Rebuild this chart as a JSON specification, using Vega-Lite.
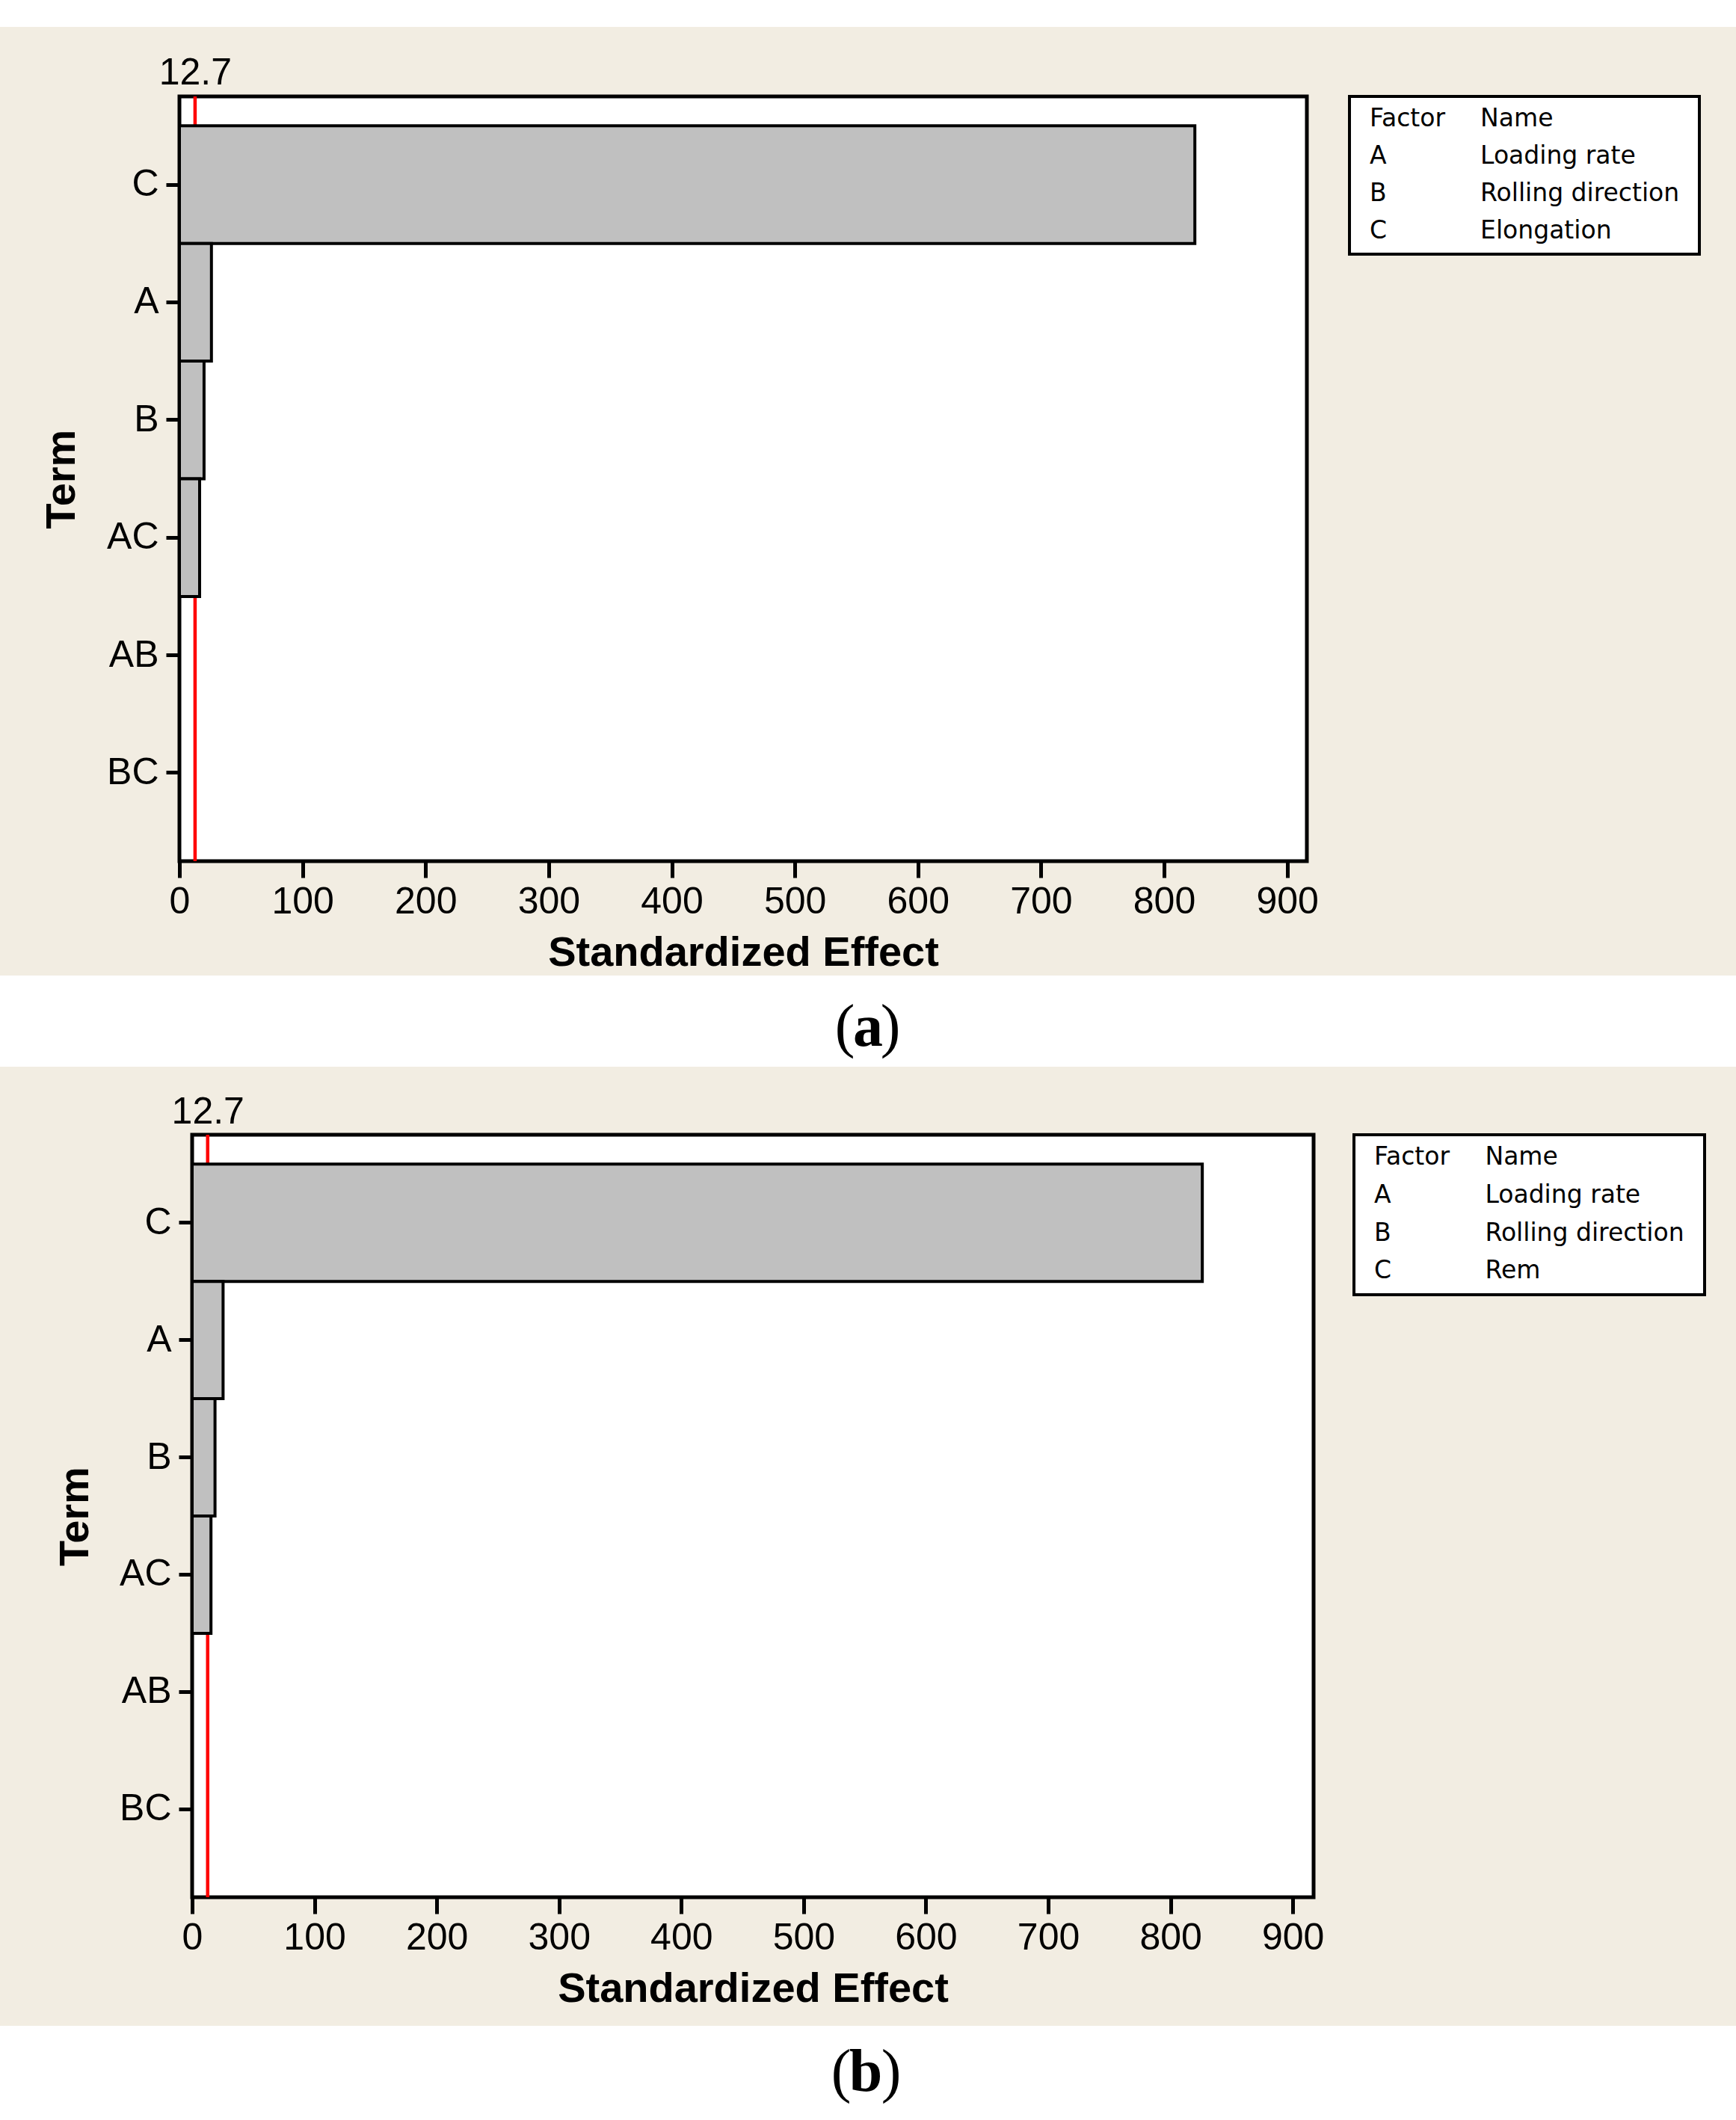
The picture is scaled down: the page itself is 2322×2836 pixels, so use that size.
{
  "$schema": "https://vega.github.io/schema/vega-lite/v6.json",
  "padding": 0,
  "background": "#f2ede2",
  "config": {
    "view": {"stroke": null},
    "axis": {"labelFont": "Liberation Sans", "titleFont": "Liberation Sans", "labelColor": "black", "titleColor": "black", "tickColor": "black", "grid": false}
  },
  "datasets": {
    "barsA": [
      {"term": "C", "effect": 825},
      {"term": "A", "effect": 26},
      {"term": "B", "effect": 20},
      {"term": "AC", "effect": 16.4},
      {"term": "AB", "effect": 0},
      {"term": "BC", "effect": 0}
    ],
    "barsB": [
      {"term": "C", "effect": 826},
      {"term": "A", "effect": 25.3},
      {"term": "B", "effect": 18.7},
      {"term": "AC", "effect": 15.4},
      {"term": "AB", "effect": 0},
      {"term": "BC", "effect": 0}
    ],
    "threshold": [{"t": 12.7}],
    "legendA": [
      {"row": "Factor", "factor": "Factor", "name": "Name"},
      {"row": "A", "factor": "A", "name": "Loading rate"},
      {"row": "B", "factor": "B", "name": "Rolling direction"},
      {"row": "C", "factor": "C", "name": "Elongation"}
    ],
    "legendB": [
      {"row": "Factor", "factor": "Factor", "name": "Name"},
      {"row": "A", "factor": "A", "name": "Loading rate"},
      {"row": "B", "factor": "B", "name": "Rolling direction"},
      {"row": "C", "factor": "C", "name": "Rem"}
    ],
    "capA": [{"open": "(", "label": "a", "close": ")"}],
    "capB": [{"open": "(", "label": "b", "close": ")"}],
    "blank": [{}]
  },
  "spacing": 0,
  "vconcat": [
    {
      "width": 2322, "height": 36,
      "view": {"fill": "white", "stroke": null},
      "data": {"name": "blank"},
      "mark": {"type": "text", "text": ""}
    },
    {
      "spacing": 0,
      "hconcat": [
        {"width": 51, "height": 10, "data": {"name": "blank"}, "mark": {"type": "text", "text": ""}},
        {
          "spacing": 37,
          "hconcat": [
            {
              "width": 1508, "height": 1023,
              "view": {"fill": "white", "stroke": "black", "strokeWidth": 5},
              "resolve": {"axis": {"x": "independent"}},
              "layer": [
                {
                  "data": {"name": "threshold"},
                  "mark": {"type": "rule", "color": "red", "strokeWidth": 4.5},
                  "encoding": {
                    "x": {"field": "t", "type": "quantitative",
                      "scale": {"domain": [0, 916], "nice": false, "zero": true},
                      "axis": {"orient": "top", "values": [12.7], "format": ".1f", "ticks": false, "tickSize": 0, "domain": false, "labelPadding": 7, "labelFontSize": 50, "title": null, "minExtent": 90, "maxExtent": 90, "labelFlush": false}}
                  }
                },
                {
                  "data": {"name": "barsA"},
                  "mark": {"type": "bar", "fill": "#c0c0c0", "stroke": "black", "strokeWidth": 4},
                  "encoding": {
                    "y": {"field": "term", "type": "nominal", "sort": ["C", "A", "B", "AC", "AB", "BC"],
                      "scale": {"paddingInner": 0, "paddingOuter": 0.25},
                      "axis": {"title": "Term", "titleFontSize": 56, "titleFontWeight": "bold", "labelFontSize": 50, "tickSize": 18, "tickWidth": 5, "labelPadding": 10, "domain": false, "minExtent": 100, "maxExtent": 100, "titlePadding": 29}},
                    "x": {"field": "effect", "type": "quantitative",
                      "scale": {"domain": [0, 916], "nice": false, "zero": true},
                      "axis": {"orient": "bottom", "values": [0, 100, 200, 300, 400, 500, 600, 700, 800, 900], "title": "Standardized Effect", "titleFontSize": 56, "titleFontWeight": "bold", "labelFontSize": 50, "tickSize": 22, "tickWidth": 5, "labelPadding": 7, "domain": false, "labelFlush": false, "labelOverlap": false, "minExtent": 84, "maxExtent": 84, "titlePadding": 11}}
                  }
                }
              ]
            },
            {
              "width": 468, "height": 211,
              "view": {"fill": "white", "stroke": "black", "strokeWidth": 4},
              "data": {"name": "legendA"},
              "transform": [{"fold": ["factor", "name"], "as": ["col", "txt"]}],
              "mark": {"type": "text", "align": "left", "baseline": "middle", "font": "DejaVu Sans", "fontSize": 33, "color": "black"},
              "encoding": {
                "x": {"field": "col", "type": "nominal", "scale": {"type": "point", "domain": ["factor", "name", "pad"], "padding": 0.58, "align": 0.157}, "axis": null},
                "y": {"field": "row", "type": "nominal", "sort": ["Factor", "A", "B", "C"], "scale": {"type": "point", "padding": 0.61, "align": 0.49}, "axis": null},
                "text": {"field": "txt"}
              }
            }
          ]
        }
      ]
    },
    {
      "width": 2322, "height": 122,
      "view": {"fill": "white", "stroke": null},
      "data": {"name": "capA"},
      "layer": [
        {"mark": {"type": "text", "font": "Liberation Serif", "fontSize": 80, "color": "black", "dx": -31, "dy": 9, "baseline": "middle"}, "encoding": {"text": {"field": "open"}}},
        {"mark": {"type": "text", "font": "Liberation Serif", "fontSize": 80, "fontWeight": "bold", "color": "black", "dy": 9, "baseline": "middle"}, "encoding": {"text": {"field": "label"}}},
        {"mark": {"type": "text", "font": "Liberation Serif", "fontSize": 80, "color": "black", "dx": 30, "dy": 9, "baseline": "middle"}, "encoding": {"text": {"field": "close"}}}
      ]
    },
    {
      "spacing": 19,
      "vconcat": [
        {
          "spacing": 0,
          "hconcat": [
            {"width": 69, "height": 10, "data": {"name": "blank"}, "mark": {"type": "text", "text": ""}},
            {
              "spacing": 35,
              "hconcat": [
                {
                  "width": 1500, "height": 1020,
                  "view": {"fill": "white", "stroke": "black", "strokeWidth": 5},
                  "resolve": {"axis": {"x": "independent"}},
                  "layer": [
                    {
                      "data": {"name": "threshold"},
                      "mark": {"type": "rule", "color": "red", "strokeWidth": 4.5},
                      "encoding": {
                        "x": {"field": "t", "type": "quantitative",
                          "scale": {"domain": [0, 917], "nice": false, "zero": true},
                          "axis": {"orient": "top", "values": [12.7], "format": ".1f", "ticks": false, "tickSize": 0, "domain": false, "labelPadding": 6, "labelFontSize": 50, "title": null, "minExtent": 88, "maxExtent": 88, "labelFlush": false}}
                      }
                    },
                    {
                      "data": {"name": "barsB"},
                      "mark": {"type": "bar", "fill": "#c0c0c0", "stroke": "black", "strokeWidth": 4},
                      "encoding": {
                        "y": {"field": "term", "type": "nominal", "sort": ["C", "A", "B", "AC", "AB", "BC"],
                          "scale": {"paddingInner": 0, "paddingOuter": 0.25},
                          "axis": {"title": "Term", "titleFontSize": 56, "titleFontWeight": "bold", "labelFontSize": 50, "tickSize": 18, "tickWidth": 5, "labelPadding": 10, "domain": false, "minExtent": 100, "maxExtent": 100, "titlePadding": 28}},
                        "x": {"field": "effect", "type": "quantitative",
                          "scale": {"domain": [0, 917], "nice": false, "zero": true},
                          "axis": {"orient": "bottom", "values": [0, 100, 200, 300, 400, 500, 600, 700, 800, 900], "title": "Standardized Effect", "titleFontSize": 56, "titleFontWeight": "bold", "labelFontSize": 50, "tickSize": 22, "tickWidth": 5, "labelPadding": 7, "domain": false, "labelFlush": false, "labelOverlap": false, "minExtent": 84, "maxExtent": 84, "titlePadding": 11}}
                      }
                    }
                  ]
                },
                {
                  "width": 469, "height": 214,
                  "view": {"fill": "white", "stroke": "black", "strokeWidth": 4},
                  "data": {"name": "legendB"},
                  "transform": [{"fold": ["factor", "name"], "as": ["col", "txt"]}],
                  "mark": {"type": "text", "align": "left", "baseline": "middle", "font": "DejaVu Sans", "fontSize": 33, "color": "black"},
                  "encoding": {
                    "x": {"field": "col", "type": "nominal", "scale": {"type": "point", "domain": ["factor", "name", "pad"], "padding": 0.58, "align": 0.157}, "axis": null},
                    "y": {"field": "row", "type": "nominal", "sort": ["Factor", "A", "B", "C"], "scale": {"type": "point", "padding": 0.61, "align": 0.49}, "axis": null},
                    "text": {"field": "txt"}
                  }
                }
              ]
            }
          ]
        },
        {
          "width": 2322, "height": 132,
          "view": {"fill": "white", "stroke": null},
          "data": {"name": "capB"},
          "layer": [
            {"mark": {"type": "text", "font": "Liberation Serif", "fontSize": 80, "color": "black", "dx": -36, "dy": -3, "baseline": "middle"}, "encoding": {"text": {"field": "open"}}},
            {"mark": {"type": "text", "font": "Liberation Serif", "fontSize": 80, "fontWeight": "bold", "color": "black", "dx": -3, "dy": -3, "baseline": "middle"}, "encoding": {"text": {"field": "label"}}},
            {"mark": {"type": "text", "font": "Liberation Serif", "fontSize": 80, "color": "black", "dx": 31, "dy": -3, "baseline": "middle"}, "encoding": {"text": {"field": "close"}}}
          ]
        }
      ]
    }
  ]
}
